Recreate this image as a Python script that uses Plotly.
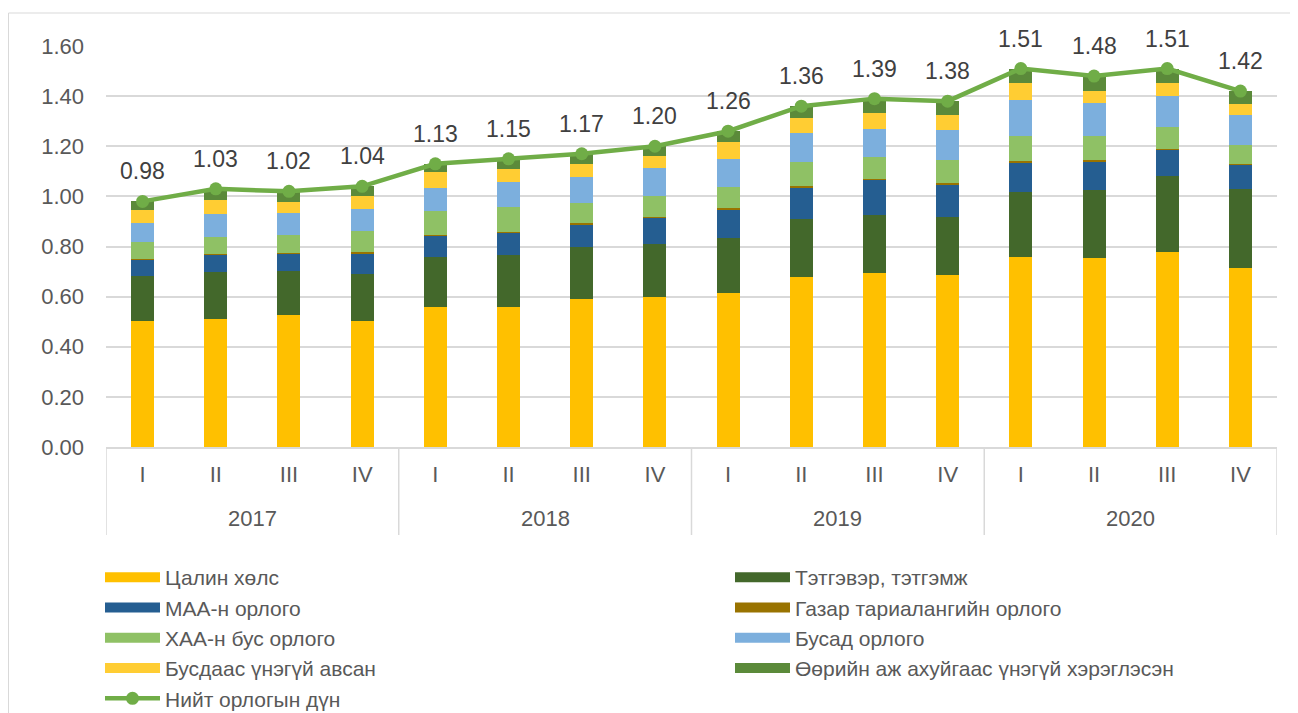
import plotly.graph_objects as go

years = ["2017", "2018", "2019", "2020"]
quarter_names = ["I", "II", "III", "IV"]
quarters = quarter_names * 4

salary = [0.504, 0.512, 0.527, 0.501, 0.557, 0.559, 0.589, 0.600,
          0.616, 0.680, 0.696, 0.688, 0.760, 0.753, 0.777, 0.713]
pension = [0.177, 0.185, 0.177, 0.188, 0.202, 0.208, 0.208, 0.211,
           0.217, 0.229, 0.228, 0.231, 0.256, 0.272, 0.304, 0.316]
livestock = [0.067, 0.070, 0.069, 0.085, 0.086, 0.089, 0.091, 0.104,
             0.114, 0.128, 0.145, 0.129, 0.120, 0.116, 0.107, 0.100]
crop = [0.002, 0.002, 0.002, 0.003, 0.002, 0.002, 0.004, 0.003,
        0.006, 0.003, 0.002, 0.004, 0.004, 0.003, 0.002, 0.002]
nonagri = [0.067, 0.070, 0.072, 0.086, 0.096, 0.099, 0.083, 0.083,
           0.084, 0.097, 0.088, 0.092, 0.099, 0.095, 0.085, 0.076]
other = [0.076, 0.089, 0.086, 0.087, 0.089, 0.099, 0.102, 0.112,
         0.112, 0.115, 0.108, 0.121, 0.145, 0.134, 0.125, 0.116]
free_received = [0.051, 0.056, 0.046, 0.053, 0.065, 0.052, 0.054, 0.048,
                 0.067, 0.060, 0.064, 0.060, 0.069, 0.048, 0.051, 0.044]
own_consumed = [0.036, 0.046, 0.041, 0.037, 0.033, 0.042, 0.039, 0.039,
                0.044, 0.048, 0.059, 0.055, 0.057, 0.059, 0.059, 0.053]
total = [0.98, 1.03, 1.02, 1.04, 1.13, 1.15, 1.17, 1.20,
         1.26, 1.36, 1.39, 1.38, 1.51, 1.48, 1.51, 1.42]

# (name, values, colour, legend column)
series = [
    ("Цалин хөлс", salary, "#FFC000", "legend"),
    ("Тэтгэвэр, тэтгэмж", pension, "#43682B", "legend2"),
    ("МАА-н орлого", livestock, "#255E91", "legend"),
    ("Газар тариалангийн орлого", crop, "#997300", "legend2"),
    ("ХАА-н бус орлого", nonagri, "#8FC165", "legend"),
    ("Бусад орлого", other, "#7CAFDD", "legend2"),
    ("Бусдаас үнэгүй авсан", free_received, "#FFCD33", "legend"),
    ("Өөрийн аж ахуйгаас үнэгүй хэрэглэсэн", own_consumed, "#5B8A3A", "legend2"),
]

n = len(quarters)
xpos = list(range(n))
nq = len(quarter_names)

fig = go.Figure()
for name, vals, color, lg in series:
    fig.add_trace(go.Bar(x=xpos, y=vals, name=name, marker_color=color,
                         marker_line_width=0, showlegend=False,
                         legendgroup=name))

fig.add_trace(go.Scatter(
    x=xpos, y=total, name="Нийт орлогын дүн", mode="lines+markers",
    line=dict(color="#70AD47", width=4.5),
    marker=dict(color="#70AD47", size=13),
    cliponaxis=False, showlegend=False, legendgroup="total",
))

# legend-only entries (wide rectangular keys like the original)
for name, vals, color, lg in series:
    fig.add_trace(go.Scatter(x=[None], y=[None], mode="lines", name=name,
                             line=dict(color=color, width=12), legend=lg,
                             legendgroup=name, hoverinfo="skip"))
fig.add_trace(go.Scatter(x=[None], y=[None], mode="lines+markers",
                         name="Нийт орлогын дүн",
                         line=dict(color="#70AD47", width=4.5),
                         marker=dict(color="#70AD47", size=13),
                         legend="legend", legendgroup="total"))

# page body has an 8px margin: figure starts at (8, 8) in the window
W, H = 1290, 705
L, T = 98, 38
plot_right, plot_bottom = 1269, 439
R, B = W - plot_right, H - plot_bottom
pw, ph = plot_right - L, plot_bottom - T

annotations = []
for i, v in enumerate(total):
    annotations.append(dict(x=i, y=v, text=f"{v:.2f}", showarrow=False,
                            yshift=30, yanchor="middle",
                            font=dict(size=23, color="#404040")))
for k, yr in enumerate(years):
    annotations.append(dict(x=k * nq + (nq - 1) / 2, xref="x",
                            y=-(511 - plot_bottom) / ph, yref="paper",
                            text=yr, showarrow=False, yanchor="middle",
                            font=dict(size=22, color="#595959")))

shapes = []
for k in range(len(years) + 1):
    shapes.append(dict(type="line", xref="x", yref="paper",
                       x0=k * nq - 0.5, x1=k * nq - 0.5,
                       y0=0, y1=-(527 - plot_bottom) / ph,
                       line=dict(color="#D9D9D9", width=1.5)))
shapes.append(dict(type="rect", xref="paper", yref="paper",
                   x0=(0.5 - L) / pw, x1=(W - 0.5 - L) / pw,
                   y0=-(H + 5 - plot_bottom) / ph, y1=(plot_bottom - 5) / ph,
                   line=dict(color="#D9D9D9", width=1), layer="below"))

legend_common = dict(orientation="v", xref="container", yref="container",
                     xanchor="left", yanchor="top", itemwidth=55,
                     font=dict(size=21, color="#595959"),
                     traceorder="normal", tracegroupgap=0,
                     bgcolor="rgba(0,0,0,0)")

fig.update_layout(
    width=W, height=H,
    barmode="stack", bargap=0.686,
    margin=dict(l=L, r=R, t=T, b=B, pad=0, autoexpand=False),
    paper_bgcolor="white", plot_bgcolor="white",
    font=dict(family="Liberation Sans, Arial, sans-serif", color="#595959", size=20),
    xaxis=dict(range=[-0.5, n - 0.5], tickvals=xpos, ticktext=quarters,
               showgrid=False, showline=True, linecolor="#D9D9D9", linewidth=1.5,
               zeroline=False, ticks="", ticklabelstandoff=7,
               tickfont=dict(size=22, color="#595959"), automargin=False),
    yaxis=dict(range=[0, 1.6], dtick=0.2, tickformat=".2f",
               showgrid=True, gridcolor="#D9D9D9", gridwidth=1.5,
               zeroline=False, ticks="", ticklabelstandoff=21,
               tickfont=dict(size=22, color="#595959"), automargin=False),
    legend=dict(legend_common, x=92 / W, y=1 - 549 / H),
    legend2=dict(legend_common, x=722 / W, y=1 - 549 / H),
    annotations=annotations,
    shapes=shapes,
)

fig.write_html("out.html")
